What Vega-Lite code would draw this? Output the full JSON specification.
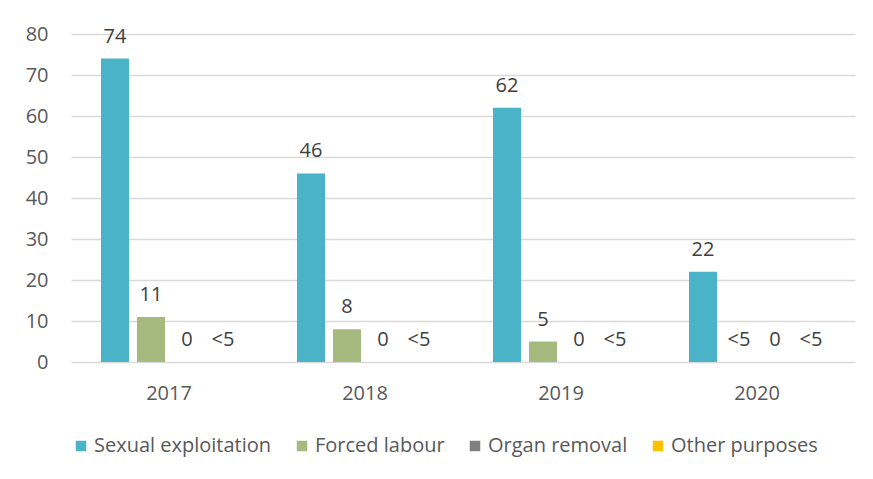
{
  "$schema": "https://vega.github.io/schema/vega-lite/v6.json",
  "width": 784,
  "height": 328,
  "autosize": {"type": "none"},
  "padding": {"left": 71, "top": 34, "right": 18, "bottom": 117},
  "background": "white",
  "data": {
    "values": [
      {"year": "2017", "purpose": "Sexual exploitation", "value": 74, "label": "74"},
      {"year": "2017", "purpose": "Forced labour", "value": 11, "label": "11"},
      {"year": "2017", "purpose": "Organ removal", "value": 0, "label": "0"},
      {"year": "2017", "purpose": "Other purposes", "value": 0, "label": "<5"},
      {"year": "2018", "purpose": "Sexual exploitation", "value": 46, "label": "46"},
      {"year": "2018", "purpose": "Forced labour", "value": 8, "label": "8"},
      {"year": "2018", "purpose": "Organ removal", "value": 0, "label": "0"},
      {"year": "2018", "purpose": "Other purposes", "value": 0, "label": "<5"},
      {"year": "2019", "purpose": "Sexual exploitation", "value": 62, "label": "62"},
      {"year": "2019", "purpose": "Forced labour", "value": 5, "label": "5"},
      {"year": "2019", "purpose": "Organ removal", "value": 0, "label": "0"},
      {"year": "2019", "purpose": "Other purposes", "value": 0, "label": "<5"},
      {"year": "2020", "purpose": "Sexual exploitation", "value": 22, "label": "22"},
      {"year": "2020", "purpose": "Forced labour", "value": 0, "label": "<5"},
      {"year": "2020", "purpose": "Organ removal", "value": 0, "label": "0"},
      {"year": "2020", "purpose": "Other purposes", "value": 0, "label": "<5"}
    ]
  },
  "encoding": {
    "x": {
      "field": "year",
      "type": "nominal",
      "scale": {"paddingInner": 0, "paddingOuter": 0},
      "axis": {
        "title": null,
        "labelAngle": 0,
        "ticks": false,
        "domain": false,
        "labelFontSize": 20,
        "labelColor": "#595959",
        "labelPadding": 21,
        "labelFont": "Open Sans"
      }
    },
    "xOffset": {
      "field": "purpose",
      "type": "nominal",
      "sort": ["Sexual exploitation", "Forced labour", "Organ removal", "Other purposes"],
      "scale": {"paddingInner": 0.222, "paddingOuter": 0.833}
    }
  },
  "layer": [
    {
      "mark": {"type": "bar"},
      "encoding": {
        "y": {
          "field": "value",
          "type": "quantitative",
          "scale": {"domain": [0, 80]},
          "axis": {
            "title": null,
            "values": [0, 10, 20, 30, 40, 50, 60, 70, 80],
            "domain": false,
            "ticks": false,
            "gridColor": "#D9D9D9",
            "gridWidth": 1.5,
            "labelFontSize": 20,
            "labelColor": "#595959",
            "labelPadding": 23,
            "labelFont": "Open Sans"
          }
        },
        "color": {
          "field": "purpose",
          "type": "nominal",
          "sort": ["Sexual exploitation", "Forced labour", "Organ removal", "Other purposes"],
          "scale": {
            "domain": ["Sexual exploitation", "Forced labour", "Organ removal", "Other purposes"],
            "range": ["#4BB3C8", "#A6B97E", "#7F7F7F", "#FFC000"]
          },
          "legend": {
            "title": null,
            "orient": "none",
            "direction": "horizontal",
            "legendX": 0,
            "legendY": 402,
            "symbolType": "square",
            "symbolSize": 110,
            "symbolStrokeWidth": 0,
            "labelFontSize": 20,
            "labelLimit": 0,
            "labelColor": "#595959",
            "labelFont": "Open Sans",
            "labelOffset": 3,
            "columnPadding": 20
          }
        }
      }
    },
    {
      "mark": {
        "type": "text",
        "dy": -16,
        "baseline": "alphabetic",
        "fontSize": 20,
        "color": "#404040",
        "font": "Open Sans"
      },
      "encoding": {
        "y": {"field": "value", "type": "quantitative"},
        "text": {"field": "label"}
      }
    }
  ],
  "config": {"view": {"stroke": null}}
}
